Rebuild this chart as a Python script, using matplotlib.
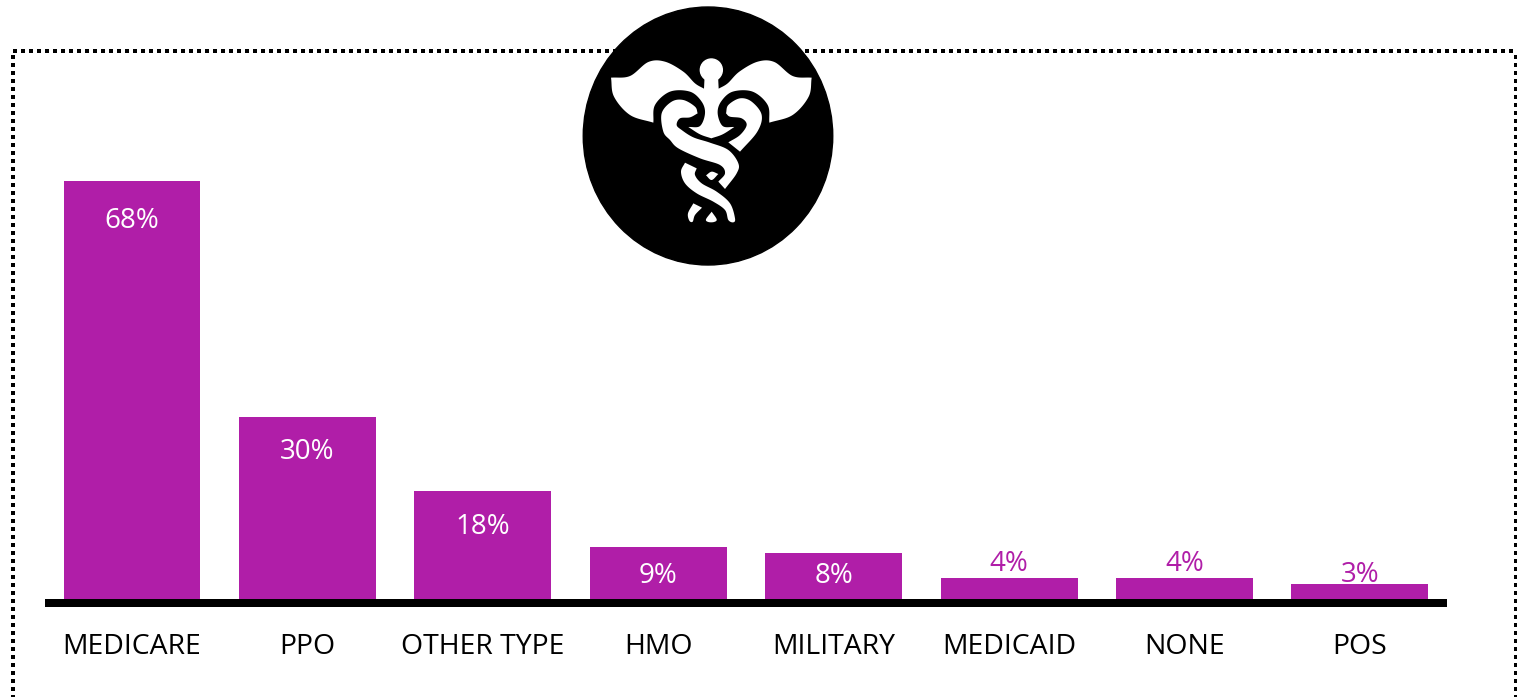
import numpy as np
import matplotlib
matplotlib.use("Agg")
import matplotlib.pyplot as plt
from matplotlib.patches import Ellipse, PathPatch, Circle
from matplotlib.path import Path

categories = ["MEDICARE", "PPO", "OTHER TYPE", "HMO", "MILITARY", "MEDICAID", "NONE", "POS"]
shares = [68, 30, 18, 9, 8, 4, 4, 3]

W, H = 1517, 697
PURPLE = "#B01EA8"
FONT = "Open Sans"
PX = 72 / 100  # points per pixel at 100 dpi


def smooth(points, n=16):
    """Catmull-Rom curve through the given control points."""
    p = np.array(points, float)
    if len(p) < 3:
        return p
    p = np.vstack([2 * p[0] - p[1], p, 2 * p[-1] - p[-2]])
    out = []
    for i in range(1, len(p) - 2):
        t = np.linspace(0, 1, n, endpoint=False)[:, None]
        a, b, c, d = p[i - 1], p[i], p[i + 1], p[i + 2]
        out.append(0.5 * (2 * b + (c - a) * t + (2 * a - 5 * b + 4 * c - d) * t ** 2
                          + (3 * b - a - 3 * c + d) * t ** 3))
    out.append(p[-2][None, :])
    return np.vstack(out)


fig = plt.figure(figsize=(W / 100, H / 100), dpi=100, facecolor="white")

# Bar chart: value zero sits on the centre of the heavy axis line
base_y = 603
ax = fig.add_axes([45 / W, 1 - base_y / H, (1447 - 45) / W, base_y / H])
ax.set_facecolor("none")
positions = np.arange(len(categories))
ax.bar(positions, shares, width=0.781, color=PURPLE, zorder=2)
ax.set_xlim(-0.496, 7.497)
ax.set_ylim(0, base_y / 6.21)
for side in ("top", "left", "right"):
    ax.spines[side].set_visible(False)
ax.spines["bottom"].set_linewidth(8 * PX)
ax.spines["bottom"].set_capstyle("butt")
ax.spines["bottom"].set_zorder(3)
ax.set_yticks([])
ax.set_xticks(positions, categories, fontsize=20.4, family=FONT, color="black")
ax.tick_params(axis="x", length=0, pad=21.5)

# Value labels: inside the taller bars, above the shortest ones
label_shift_px = [-40, -35, -36, -29, -23, 14, 14, 9]
for x, v, shift in zip(positions, shares, label_shift_px):
    ax.annotate(f"{v}%", (x, v), xytext=(0, shift * PX), textcoords="offset points",
                ha="center", va="center", fontsize=20, family=FONT,
                color="white" if shift < 0 else PURPLE, zorder=4, annotation_clip=False)

# Overlay in pixel coordinates for the dotted frame and the emblem
ov = fig.add_axes([0, 0, 1, 1])
ov.set_xlim(0, W)
ov.set_ylim(H, 0)
ov.axis("off")
ov.patch.set_alpha(0)

dots = dict(color="black", lw=4 * PX, linestyle=(0, (1, 1)), dash_capstyle="butt", zorder=1)
ov.plot([13, 1516], [50.7, 50.7], **dots)
ov.plot([13, 13], [55, H], **dots)
ov.plot([1516, 1516], [55, H], **dots)

ov.add_patch(Ellipse((708, 136), 249.5, 258, color="black", zorder=5))


def shape(*segments):
    """White filled outline; each segment is smoothed, corners fall between segments.
    Artwork is laid out on a 3x grid anchored at (570, 0)."""
    a = np.vstack([smooth(s) for s in segments])
    verts = np.column_stack([570 + a[:, 0] / 3, a[:, 1] / 3])
    ov.add_patch(PathPatch(Path(np.vstack([verts, verts[:1]]), closed=True),
                           facecolor="white", edgecolor="none", zorder=6))


def mirrored(points):
    return [(848 - x, y) for x, y in points][::-1]


# Wings and staff form one silhouette, symmetric about the staff
neck = [(404, 225), (402, 266)]
wing_top = [(402, 266), (375, 250), (340, 215), (285, 185), (235, 186), (180, 228), (123, 233)]
wing_low = [(123, 233), (132, 290), (180, 345), (250, 368)]
band = [(250, 368), (255, 315), (300, 275), (360, 275), (395, 305), (405, 340), (390, 378), (355, 381)]
crescent = [(355, 381), (390, 403), (424, 415)]
shape(neck, wing_top, wing_low, band, crescent, mirrored(crescent), mirrored(band),
      mirrored(wing_low), mirrored(wing_top), mirrored(neck))
ov.add_patch(Circle((570 + 424 / 3, 210 / 3), 33 / 3, color="white", zorder=6))

# Long strand: upper-left curl running down through the S bend
shape([(383, 340), (375, 320), (340, 300), (305, 305), (275, 340), (280, 395), (300, 420),
       (325, 445), (390, 475), (450, 495), (465, 520), (445, 545)],
      [(465, 567), (500, 520), (505, 490), (475, 450), (420, 428), (370, 412), (335, 390),
       (320, 375), (330, 355), (360, 352), (383, 340)])

# Short strand: upper-right curl
shape([(468, 340), (475, 315), (510, 295), (545, 305), (575, 345), (562, 395), (510, 455)],
      [(475, 427), (510, 405), (530, 375), (515, 355), (480, 350), (468, 340)])

# Lower strand and the small pieces around it
shape([(345, 488), (380, 505)],
      [(380, 505), (375, 525), (395, 550), (440, 575), (480, 610), (495, 655), (490, 667), (475, 660),
       (465, 630), (430, 605), (380, 580), (345, 550), (333, 515), (345, 488)])
shape([(408, 526), (425, 515), (445, 522)], [(445, 522), (425, 540), (408, 526)])
shape([(370, 610), (396, 623)], [(396, 623), (375, 645), (368, 665), (358, 662), (354, 640), (370, 610)])
shape([(425, 635), (440, 658), (432, 666), (415, 666), (408, 658), (425, 635)])

fig.savefig("out.png", dpi=100)
